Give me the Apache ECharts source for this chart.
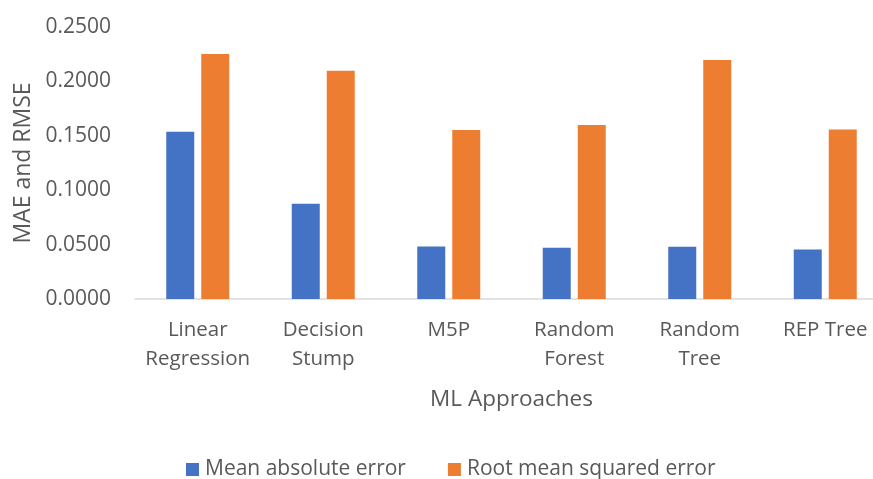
<!DOCTYPE html>
<html>
<head>
<meta charset="utf-8">
<script src="https://cdn.jsdelivr.net/npm/echarts@6/dist/echarts.min.js"></script>
<style>html,body{margin:0;padding:0;background:#fff;}#c{width:873px;height:479px;}</style>
</head>
<body>
<div id="c"></div>
<script>
const categories = ['Linear\nRegression', 'Decision\nStump', 'M5P', 'Random\nForest', 'Random\nTree', 'REP Tree'];
const maeValues = [0.1537, 0.0876, 0.0482, 0.0470, 0.0480, 0.0455];
const rmseValues = [0.2251, 0.2097, 0.1553, 0.1599, 0.2196, 0.1559];
const seriesNames = ['Mean absolute error', 'Root mean squared error'];
const yTitle = 'MAE and RMSE';
const xTitle = 'ML Approaches';

const FONT = 'Open Sans';
const TXT = '#595959';
const chart = echarts.init(document.getElementById('c'));
chart.setOption({
  animation: false,
  color: ['#4472C4', '#ED7D31'],
  grid: { left: 135, top: 27, width: 753, bottom: 180, outerBoundsMode: 'none', containLabel: false },
  legend: {
    left: 181, top: 454, itemWidth: 13, itemHeight: 13, itemGap: 42,
    icon: 'rect',
    textStyle: { fontFamily: FONT, fontSize: 21, color: TXT, padding: [0, 0, 0, 1] },
    data: seriesNames
  },
  xAxis: {
    type: 'category', data: categories,
    name: xTitle, nameLocation: 'middle', nameGap: 89,
    nameTextStyle: { fontFamily: FONT, fontSize: 22.5, color: TXT },
    axisLine: { lineStyle: { color: '#d9d9d9', width: 1.5 } },
    axisTick: { show: false },
    axisLabel: { fontFamily: FONT, fontSize: 20.5, color: TXT, lineHeight: 29, margin: 17, interval: 0 }
  },
  yAxis: {
    type: 'value', min: 0, max: 0.25, interval: 0.05,
    name: yTitle, nameLocation: 'middle', nameGap: 94,
    nameTextStyle: { fontFamily: FONT, fontSize: 23, color: TXT },
    axisLine: { show: false }, axisTick: { show: false },
    splitLine: { show: false },
    axisLabel: { fontFamily: FONT, fontSize: 21, color: TXT, margin: 24, formatter: v => v.toFixed(4) }
  },
  series: [
    { name: seriesNames[0], type: 'bar', data: maeValues, barWidth: 28, barGap: '25%' },
    { name: seriesNames[1], type: 'bar', data: rmseValues, barWidth: 28, barGap: '25%' }
  ]
});
</script>
</body>
</html>
